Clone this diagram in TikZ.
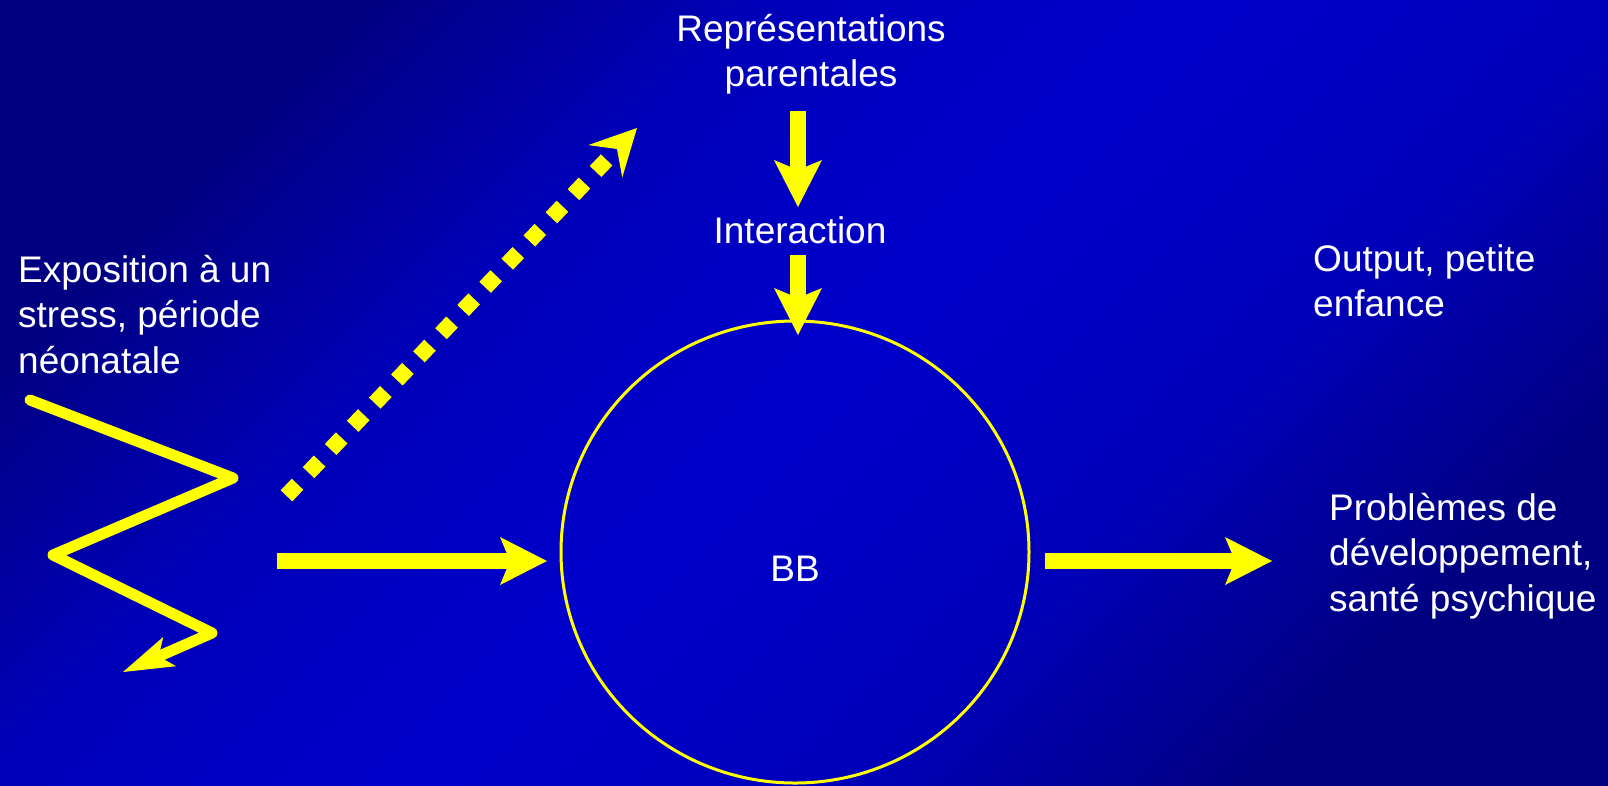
\documentclass[tikz,border=0pt]{standalone}
\usepackage{fontspec}
\setmainfont{Liberation Sans}
\usetikzlibrary{arrows.meta}
\definecolor{bgdark}{HTML}{000080}
\definecolor{bgmid}{HTML}{0000B8}
\definecolor{bgbright}{HTML}{0000CC}
\definecolor{ylw}{HTML}{FFFF00}
\pgfdeclarehorizontalshading{bgshade}{100bp}{color(0bp)=(bgdark); color(25bp)=(bgdark);
  color(37bp)=(bgmid); color(50bp)=(bgbright); color(63bp)=(bgmid);
  color(75bp)=(bgdark); color(100bp)=(bgdark)}
\begin{document}
\begin{tikzpicture}[x=1pt,y=-1pt,
  lbl/.style={text=white, inner sep=0pt, font=\fontsize{37}{45.5}\selectfont},
  blockarrow/.style={draw=ylw, line width=16pt,
    -{Stealth[length=47pt,width=48pt,inset=10pt,line width=0pt]}},
  zigarrow/.style={draw=ylw, line width=11pt, line cap=round, line join=round,
    -{Stealth[length=51pt,width=32pt,inset=12pt,line width=0pt]}},
  dotarrow/.style={draw=ylw, line width=16pt, dash pattern=on 16pt off 16pt,
    -{Stealth[length=46pt,width=47pt,inset=17pt,line width=0pt]}},
  ring/.style={draw=ylw, line width=3pt}]
\useasboundingbox (0,0) rectangle (1608,785);
\shade[shading=bgshade, shading angle=-45] (0,0) rectangle (1608,785);

% texts
\node[lbl, anchor=base] (rep) at (811,41)
  {\begin{tabular}[t]{@{}c@{}}Représentations\\ parentales\end{tabular}};
\node[lbl, anchor=base] (inter) at (800,243) {Interaction};
\node[lbl, anchor=base west] (expo) at (18,282)
  {\begin{tabular}[t]{@{}l@{}}Exposition à un\\ stress, période\\ néonatale\end{tabular}};
\node[lbl, anchor=base west] (output) at (1313,271)
  {\begin{tabular}[t]{@{}l@{}}Output, petite\\ enfance\end{tabular}};
\node[lbl, anchor=base west] (prob) at (1329,520)
  {\begin{tabular}[t]{@{}l@{}}Problèmes de\\ développement,\\ santé psychique\end{tabular}};
\node[lbl, anchor=base] (bb) at (795,581) {BB};

% circle
\draw[ring] (795,552) ellipse [x radius=234, y radius=231];

% coordinates
\coordinate (v1s) at (798,111);
\coordinate (v1e) at (798,207);
\coordinate (v2s) at (798,255);
\coordinate (v2e) at (798,335);
\coordinate (h1s) at (277,561);
\coordinate (h1e) at (547,561);
\coordinate (h2s) at (1045,561);
\coordinate (h2e) at (1272,561);
\coordinate (z0) at (30,400);
\coordinate (z1) at (233,478);
\coordinate (z2) at (53,555);
\coordinate (z3) at (212,633);
\coordinate (z4) at (123,672);
\coordinate (d0) at (286.5,495.8);
\coordinate (d1) at (637,128);

% arrows
\draw[blockarrow] (v1s) -- (v1e);
\draw[blockarrow] (v2s) -- (v2e);
\draw[blockarrow] (h1s) -- (h1e);
\draw[blockarrow] (h2s) -- (h2e);
\draw[zigarrow] (z0) -- (z1) -- (z2) -- (z3) -- (z4);
\draw[dotarrow] (d0) -- (d1);
\end{tikzpicture}
\end{document}
